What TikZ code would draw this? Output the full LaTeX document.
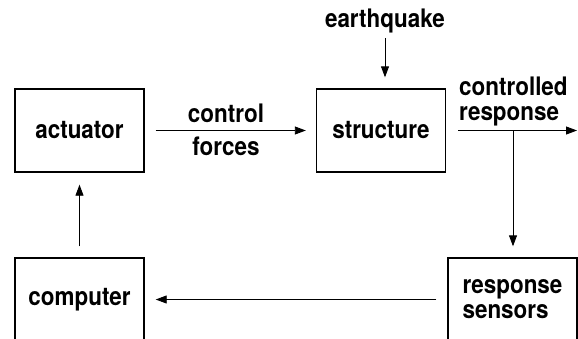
\documentclass[tikz,border=0pt]{standalone}
\usepackage{fontspec}
\setmainfont[FakeStretch=0.88]{TeX Gyre Heros}
\usetikzlibrary{arrows.meta}
\begin{document}
\begin{tikzpicture}[x=1pt,y=-1pt,
  box/.style={draw,line width=1.4pt,minimum width=129pt,minimum height=83pt,inner sep=0pt,
    font=\bfseries\fontsize{25.5}{25}\selectfont},
  lbl/.style={inner sep=0pt,font=\bfseries\fontsize{25.5}{25}\selectfont},
  arr/.style={line width=0.9pt,-{Triangle[length=11pt,width=8pt]}}]
\useasboundingbox (0,0) rectangle (578,338);
\clip (0,0) rectangle (578,338);
\node[box] (act) at (79.5,130.5) {actuator};
\node[box] (str) at (381,130.5) {structure};
\node[box] (comp) at (79.5,299.5) {computer};
\node[box,align=left] (sen) at (512.5,299.5) {response\\sensors};
\node[lbl] (eq) at (385,21) {earthquake};
\node[lbl,align=center,font=\bfseries\fontsize{25.5}{33}\selectfont] (cf) at (226,130) {control\\forces};
\node[lbl,align=left,anchor=west] (cr) at (459,101) {controlled\\response};
\coordinate (out) at (577,130.5);
\coordinate (br) at (513,130.5);
\draw[arr,shorten <=5pt,shorten >=11pt] (eq.south) -- (str.north -| eq.south);
\draw[arr,shorten <=11pt,shorten >=10pt] (act.east) -- (str.west);
\draw[arr,shorten <=12pt] (str.east) -- (out);
\draw[arr,shorten >=11pt] (br) -- (sen.north -| br);
\draw[arr,shorten <=11pt,shorten >=11pt] (sen.west) -- (comp.east);
\draw[arr,shorten <=11pt,shorten >=12pt] (comp.north) -- (act.south);
\end{tikzpicture}
\end{document}
